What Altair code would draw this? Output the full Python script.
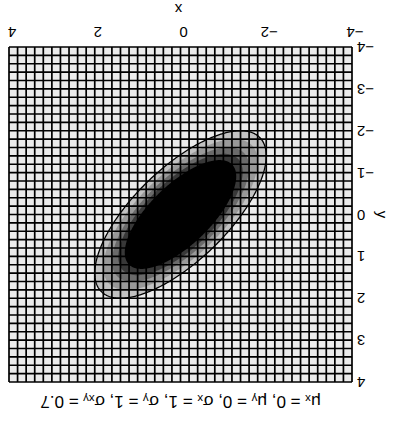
import altair as alt
import numpy as np
import pandas as pd

# Distribution parameters (as given in the title)
MU_X, MU_Y = 0.0, 0.0
SIGMA_X, SIGMA_Y = 1.0, 1.0
SIGMA_XY = 0.7

# Shaded density bands: Mahalanobis radius of each band edge and its grey
BAND_RADII = [2.0, 1.8, 1.6, 1.45, 1.3]
BAND_GREYS = ["#c2c2c2", "#999999", "#6a6a6a", "#383838", "#000000"]
CONTOUR_RADII = [2.0]

X_TICKS = [-4, -2, 0, 2, 4]
Y_TICKS = [-4, -3, -2, -1, 0, 1, 2, 3, 4]
GRID_STEP = 0.2
DOMAIN = [-4, 4]

TITLE = "μₓ = 0, μᵧ = 0, σₓ = 1, σᵧ = 1, σₓᵧ = 0.7"
FONT = "Liberation Sans"
W, H = 343, 335

rho = SIGMA_XY / (SIGMA_X * SIGMA_Y)


def band_frame(r):
    t = np.linspace(0, np.pi, 241)
    u = r * np.cos(t)
    half = SIGMA_Y * np.sqrt(1 - rho ** 2) * np.sqrt(np.clip(r ** 2 - u ** 2, 0, None))
    centre = MU_Y + rho * SIGMA_Y * u
    return pd.DataFrame({"x": MU_X + SIGMA_X * u, "y": centre - half, "y2": centre + half})


def contour_frame(r):
    t = np.linspace(0, 2 * np.pi, 361)
    u, v = r * np.cos(t), r * np.sin(t)
    return pd.DataFrame({
        "i": np.arange(len(t)),
        "x": MU_X + SIGMA_X * u,
        "y": MU_Y + SIGMA_Y * (rho * u + np.sqrt(1 - rho ** 2) * v),
    })


n_lines = int(round((DOMAIN[1] - DOMAIN[0]) / GRID_STEP)) + 1
grid = pd.DataFrame({"v": [round(DOMAIN[0] + GRID_STEP * k, 2) for k in range(n_lines)]})

# Whole figure is drawn turned by half a revolution: both scales run backwards
x_scale = alt.Scale(domain=DOMAIN, reverse=True, nice=False, zero=False)
y_scale = alt.Scale(domain=DOMAIN, reverse=True, nice=False, zero=False)

layers = []
for r, g in zip(BAND_RADII, BAND_GREYS):
    layers.append(
        alt.Chart(band_frame(r)).mark_area(color=g, opacity=1).encode(
            x=alt.X("x:Q", scale=x_scale, axis=None),
            y=alt.Y("y:Q", scale=y_scale, axis=None, stack=None),
            y2="y2:Q",
        )
    )

for r in CONTOUR_RADII:
    layers.append(
        alt.Chart(contour_frame(r)).mark_line(color="black", strokeWidth=1.3).encode(
            x=alt.X("x:Q", scale=x_scale),
            y=alt.Y("y:Q", scale=y_scale),
            order="i:Q",
        )
    )

vgrid = alt.Chart(grid).mark_rule(color="black", strokeWidth=1.7).encode(
    x=alt.X("v:Q", scale=x_scale))
hgrid = alt.Chart(grid).mark_rule(color="black", strokeWidth=1.7).encode(
    y=alt.Y("v:Q", scale=y_scale))
layers += [vgrid, hgrid]

# Tick labels, upside down
x_labels = alt.Chart(pd.DataFrame({"v": X_TICKS})).mark_text(
    angle=180, align="center", baseline="middle", fontSize=15, font=FONT,
    color="black", dx=-3,
).encode(x=alt.X("v:Q", scale=x_scale), y=alt.value(-15), text="v:Q")

y_labels = alt.Chart(pd.DataFrame({"v": Y_TICKS})).mark_text(
    angle=180, align="right", baseline="middle", fontSize=15, font=FONT,
    color="black",
).encode(x=alt.value(W + 5), y=alt.Y("v:Q", scale=y_scale), text="v:Q")

x_title = alt.Chart(pd.DataFrame({"t": ["x"]})).mark_text(
    angle=180, align="center", baseline="middle", fontSize=15, font=FONT,
    color="black",
).encode(x=alt.value(W / 2 - 2), y=alt.value(-38), text="t:N")

y_title = alt.Chart(pd.DataFrame({"t": ["y"]})).mark_text(
    angle=90, align="center", baseline="middle", fontSize=15, font=FONT,
    color="black",
).encode(x=alt.value(W + 30), y=alt.value(H / 2), text="t:N")

layers += [x_labels, y_labels, x_title, y_title]

chart = alt.layer(*layers).properties(
    width=W,
    height=H,
    autosize=alt.AutoSizeParams(type="none"),
    padding={"left": 9, "top": 47, "right": 44, "bottom": 44},
    background="white",
    title=alt.TitleParams(TITLE, orient="bottom", angle=180, fontSize=17,
                          font=FONT, fontWeight="normal", color="black",
                          baseline="bottom", offset=3),
).configure_view(stroke=None, fill="#ececec")

chart.save("out.html", embed_options={"renderer": "svg", "actions": False})
